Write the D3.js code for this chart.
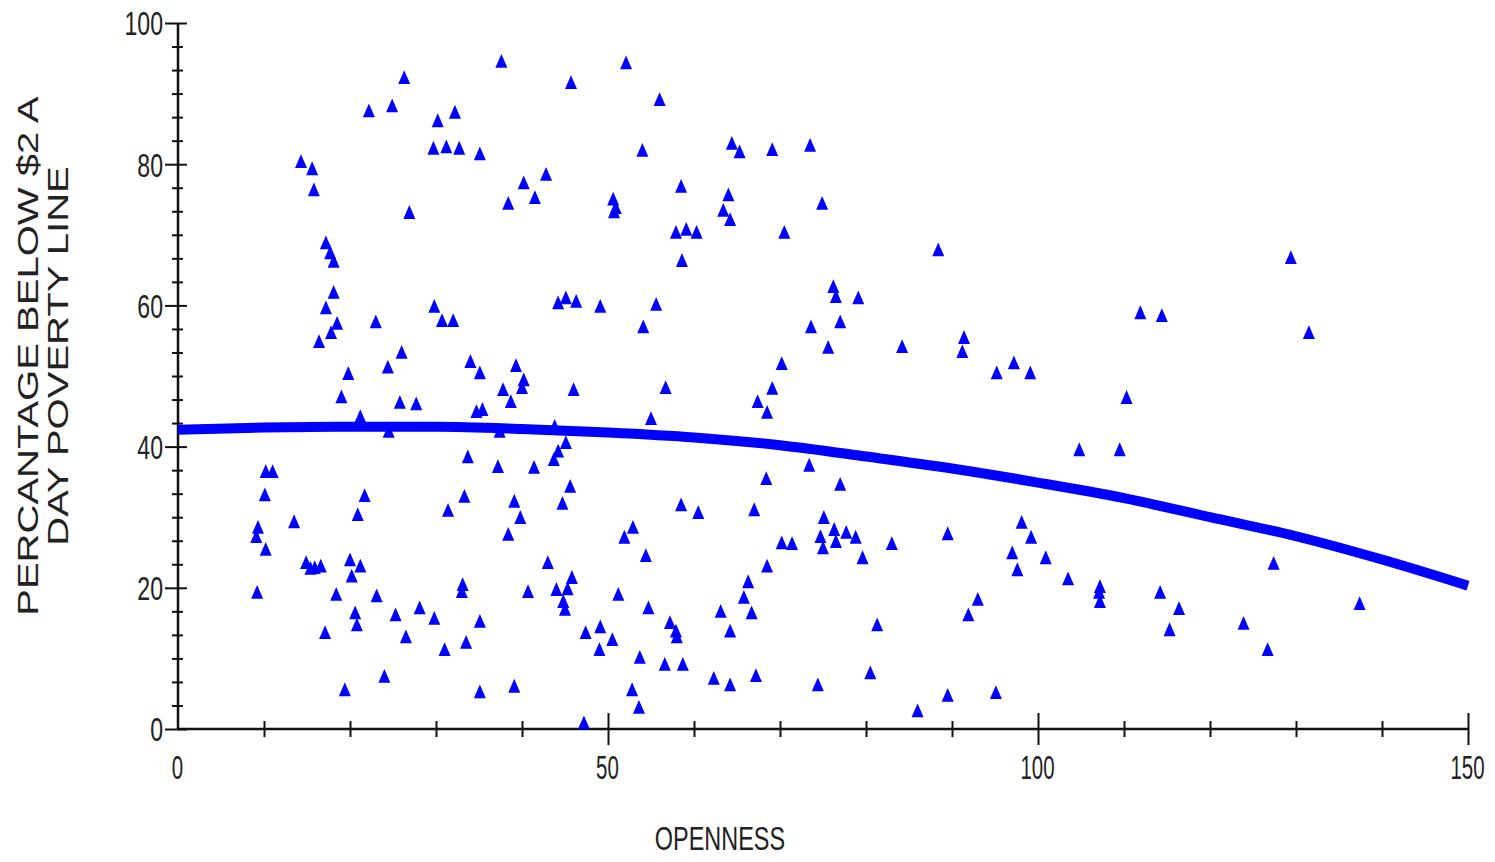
<!doctype html>
<html>
<head>
<meta charset="UTF-8">
<title>Openness vs poverty</title>
<style>
  body { margin: 0; background: #fff; }
  svg { display: block; }
  .lbl { font-family: "Liberation Sans", Arial, sans-serif; fill: #222; }
</style>
</head>
<body>
<div id="chart"></div>
<script src="https://cdnjs.cloudflare.com/ajax/libs/d3/7.8.5/d3.min.js"></script>
<script>
// scatter values
var openness = [
  37.6, 26.3, 45.7, 22.2, 24.9, 30.2, 32.2, 29.7, 31.2, 32.7, 35.1, 14.3, 15.6, 15.8, 26.9, 40.2,
  42.8, 41.5, 38.4, 50.6, 50.9, 50.7, 17.2, 17.7, 18.1, 18.1, 17.2, 18.5, 17.8, 16.4, 23.0, 29.8,
  30.7, 32.0, 44.2, 45.1, 46.3, 49.1, 26.0, 24.4, 19.8, 34.0, 35.1, 39.3, 40.2, 40.0, 37.8, 46.0,
  19.0, 25.8, 27.7, 38.7,
  21.2, 24.5, 34.7, 35.4, 37.4, 43.8, 45.1, 44.2, 43.7, 41.4, 37.2, 33.7, 10.2, 11.0, 10.1, 21.7,
  20.9, 33.3, 31.4, 39.1, 39.8, 45.6, 44.7, 38.4, 9.3, 9.1, 10.2, 13.5, 14.9, 15.4, 15.9, 16.6,
  20.0, 21.2, 20.2, 9.2, 18.4, 23.1, 33.1, 33.0, 40.7, 43.0, 44.0, 45.8, 45.3, 44.8, 45.0, 20.6,
  20.8, 25.3, 28.1, 29.8, 35.1, 17.1, 26.5, 33.5, 31.0, 24.0, 19.4, 35.1, 39.1, 47.4, 49.1, 49.0,
  50.5, 47.2,
  52.1, 56.0, 54.0, 64.4, 65.3, 69.1, 73.5, 58.5, 64.0, 63.4, 64.2, 74.9, 57.9, 59.1, 60.3, 70.5,
  58.6, 88.4, 55.6, 54.1, 76.2, 76.5, 79.1, 73.6, 77.0, 75.6, 84.2, 91.4, 91.2, 95.2, 97.2, 99.1,
  70.2, 56.7, 69.1, 67.4, 68.5, 55.0,
  73.4, 68.4, 77.0, 58.5, 60.5, 67.0, 52.9, 51.9, 54.4, 70.2, 71.4, 75.1, 74.7, 75.0, 76.3, 76.5,
  77.7, 78.8, 79.6, 83.0, 89.5, 98.1, 99.2, 97.0, 97.6, 68.5, 66.3, 65.8, 66.7, 51.2, 54.7, 57.2,
  57.9, 58.0, 63.1, 64.2, 53.7, 56.6, 58.7, 62.3, 64.2, 67.2, 74.4, 80.5, 81.3, 52.8, 53.6, 91.9,
  93.0, 86.0, 89.5, 95.1,
  129.4, 111.9, 114.4, 131.5, 110.3,
  104.8, 109.5, 100.9, 103.5, 107.2, 107.1, 107.2, 114.2, 116.4, 115.3, 123.9, 126.7, 127.4, 137.4
];
var poverty = [
  94.5, 92.2, 91.5, 87.5, 88.2, 86.1, 87.3, 82.2, 82.4, 82.2, 81.4, 80.3, 79.3, 76.3, 73.1, 77.3,
  78.5, 75.2, 74.4, 75.0, 73.8, 73.2, 68.8, 67.4, 66.2, 61.8, 59.6, 57.4, 56.1, 54.8, 57.6, 59.8,
  57.8, 57.8, 60.3, 61.0, 60.5, 59.8, 53.3, 51.2, 50.3, 52.0, 50.4, 51.4, 49.4, 48.3, 48.0, 48.0,
  47.0, 46.2, 46.0, 46.3,
  44.2, 42.1, 44.9, 45.2, 42.1, 42.8, 40.5, 39.3, 38.1, 37.0, 37.1, 38.5, 36.4, 36.4, 33.1, 33.0,
  30.3, 32.9, 30.9, 32.2, 29.9, 34.3, 31.9, 27.5, 28.5, 27.2, 25.4, 29.3, 23.5, 22.7, 22.8, 23.0,
  23.9, 23.0, 21.6, 19.3, 19.0, 18.8, 20.4, 19.4, 19.4, 23.5, 19.7, 21.4, 19.8, 18.0, 16.9, 16.4,
  14.7, 16.1, 17.1, 15.6, 15.2, 13.6, 13.0, 12.2, 11.2, 7.4, 5.5, 5.2, 6.0, 13.6, 14.4, 11.2,
  12.6, 0.8,
  94.3, 89.1, 81.9, 82.9, 81.7, 82.0, 82.6, 76.8, 75.6, 73.4, 72.1, 74.4, 70.3, 70.7, 70.3, 70.3,
  66.3, 67.8, 60.1, 56.9, 62.6, 61.2, 61.0, 56.9, 57.6, 54.0, 54.1, 55.4, 53.4, 50.4, 51.8, 50.4,
  51.7, 48.3, 48.2, 46.3, 44.8, 43.9,
  37.3, 35.4, 34.6, 31.7, 30.6, 31.0, 28.5, 27.1, 24.5, 26.3, 26.2, 29.9, 27.2, 25.6, 28.2, 26.5,
  27.8, 27.1, 24.2, 26.2, 27.6, 29.2, 27.1, 24.9, 22.5, 23.0, 20.8, 18.6, 16.4, 19.0, 17.1, 15.0,
  13.8, 13.0, 16.6, 13.8, 10.1, 9.1, 9.1, 7.1, 6.2, 7.5, 6.2, 7.9, 14.7, 5.5, 3.0, 16.1,
  18.3, 2.5, 4.7, 5.1,
  66.7, 58.9, 58.5, 56.1, 46.9,
  39.5, 39.5, 24.2, 21.2, 20.1, 19.3, 18.0, 19.3, 17.0, 14.0, 14.9, 11.2, 23.4, 17.7
];

// fitted curve, read every 10 units
var fitX = [0, 10, 20, 30, 40, 50, 60, 70, 80, 90, 100, 110, 120, 130, 140, 150];
var fitY = [42.4, 42.7, 42.8, 42.8, 42.5, 42.0, 41.3, 40.2, 38.6, 36.9, 34.9, 32.7, 30.0, 27.3, 24.0, 20.3];

var xTicks = [0, 50, 100, 150];
var yTicks = [0, 20, 40, 60, 80, 100];

var width = 1495, height = 862;
var plotLeft = 178, plotRight = 1468, plotTop = 23, plotBottom = 729;
var blue = "#0000ff";

var svg = d3.select("#chart").append("svg")
  .attr("width", width)
  .attr("height", height);

var x = d3.scaleLinear().domain([0, 150]).range([plotLeft, plotRight]);
var y = d3.scaleLinear().domain([0, 100]).range([plotBottom, plotTop]);

// minor tick values
var xMinor = d3.range(1, 15).map(function(i) { return i * 10; })
  .filter(function(v) { return v % 50 !== 0; });
var yMinor = d3.range(1, 30).map(function(i) { return i * 10 / 3; })
  .filter(function(v, i) { return (i + 1) % 6 !== 0; });

// x axis: minor ticks, major ticks, then the line itself
svg.append("g")
  .attr("transform", "translate(0," + (plotBottom - 8) + ")")
  .call(d3.axisBottom(x).tickValues(xMinor).tickSize(16).tickFormat(""))
  .call(function(g) { g.select(".domain").remove(); });

var xg = svg.append("g")
  .attr("transform", "translate(0," + (plotBottom - 16) + ")")
  .call(d3.axisBottom(x).tickValues(xTicks).tickSize(32).tickFormat(d3.format("d")))
  .call(function(g) { g.select(".domain").remove(); });
xg.selectAll(".tick").filter(function(d) { return d === 0; }).select("line").remove();
xg.selectAll("text")
  .attr("y", 0).attr("dy", 0)
  .attr("transform", "translate(-1,66) scale(0.62,1)")
  .attr("class", "lbl")
  .style("font-size", "33px");

// y axis
svg.append("g")
  .attr("transform", "translate(" + (plotLeft + 5) + ",0)")
  .call(d3.axisLeft(y).tickValues(yMinor).tickSize(11).tickFormat(""))
  .call(function(g) { g.select(".domain").remove(); });

var yg = svg.append("g")
  .attr("transform", "translate(" + (plotLeft + 9) + ",0)")
  .call(d3.axisLeft(y).tickValues(yTicks).tickSize(22).tickFormat(d3.format("d")))
  .call(function(g) { g.select(".domain").remove(); });
yg.selectAll("text")
  .attr("x", 0)
  .attr("dy", "0.36em")
  .attr("transform", "translate(-24,0) scale(0.7,1)")
  .attr("class", "lbl")
  .style("font-size", "33px");

svg.selectAll(".tick line").attr("stroke", "#111").attr("stroke-width", 2);

svg.append("line")
  .attr("x1", plotLeft).attr("x2", plotRight)
  .attr("y1", plotBottom).attr("y2", plotBottom)
  .attr("stroke", "#111").attr("stroke-width", 2.5);
svg.append("line")
  .attr("x1", plotLeft).attr("x2", plotLeft)
  .attr("y1", plotTop).attr("y2", plotBottom)
  .attr("stroke", "#111").attr("stroke-width", 2.5);

// axis titles
svg.append("text")
  .attr("class", "lbl")
  .attr("transform", "translate(720,850) scale(0.69,1)")
  .attr("text-anchor", "middle")
  .style("font-size", "34px")
  .text("OPENNESS");

var yTitle = svg.append("text")
  .attr("class", "lbl")
  .attr("transform", "translate(38,356) rotate(-90) scale(1.38,1)")
  .attr("text-anchor", "middle")
  .style("font-size", "29px");
yTitle.append("tspan").attr("x", 0).attr("y", 0).text("PERCANTAGE BELOW $2 A");
yTitle.append("tspan").attr("x", 0).attr("y", 30).text("DAY POVERTY LINE");

// fitted curve
var fit = fitX.map(function(d, i) { return [d, fitY[i]]; });
svg.append("path")
  .datum(fit)
  .attr("fill", "none")
  .attr("stroke", blue)
  .attr("stroke-width", 10)
  .attr("d", d3.line()
    .x(function(d) { return x(d[0]); })
    .y(function(d) { return y(d[1]); })
    .curve(d3.curveMonotoneX));

// triangle markers, a little taller than equilateral
var tri = {
  draw: function(ctx, size) {
    var w = Math.sqrt(size) / 2;
    ctx.moveTo(0, -w * 1.3);
    ctx.lineTo(w, w);
    ctx.lineTo(-w, w);
    ctx.closePath();
  }
};
var pts = openness.map(function(d, i) { return [d, poverty[i]]; });
svg.append("g").selectAll("path")
  .data(pts)
  .enter().append("path")
  .attr("transform", function(d) { return "translate(" + x(d[0]) + "," + y(d[1]) + ")"; })
  .attr("d", d3.symbol().type(tri).size(144))
  .attr("fill", blue);
</script>
</body>
</html>
